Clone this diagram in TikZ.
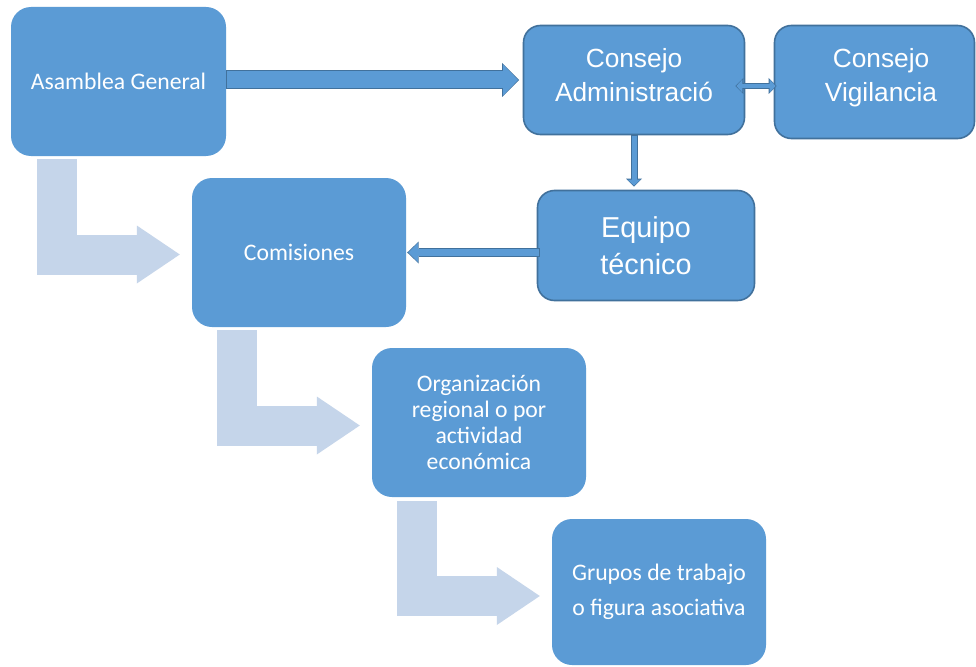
\documentclass[tikz,border=0pt]{standalone}
\usepackage{fontspec}
\usepackage{tikz}
\usetikzlibrary{arrows.meta,calc,positioning}
\newfontfamily\calibrifont{Carlito}
\newfontfamily\arialfont{Liberation Sans}
\definecolor{boxfill}{RGB}{91,155,213}
\definecolor{boxline}{RGB}{65,113,156}
\definecolor{lightarrow}{RGB}{197,213,234}
\tikzstyle{orgbox}=[rectangle, rounded corners=20pt, fill=boxfill, text=white, align=center, inner sep=0pt, minimum width=214pt, minimum height=149pt, font=\calibrifont\fontsize{23.7}{26}\selectfont]
\tikzstyle{council}=[rectangle, rounded corners=17pt, fill=boxfill, draw=boxline, line width=1.6pt, text=white, align=center, inner sep=0pt, font=\arialfont\fontsize{26.3}{34}\selectfont]
\tikzstyle{councillabel}=[text=white, align=center, inner sep=0pt, font=\arialfont\fontsize{26.3}{34}\selectfont]
\tikzstyle{stepdown}=[draw=lightarrow, line width=40pt, line join=miter, -{Triangle[length=43pt, width=58pt, line width=0pt]}]
\tikzset{
  darr/.code args={#1/#2/#3/#4}{%
    \pgfmathsetlengthmacro\shaftin{#1-2pt}%
    \pgfmathsetlengthmacro\headwin{#2-3pt}%
    \pgfmathsetlengthmacro\headlin{#3-2pt}%
    \tikzset{draw=boxline, line width=#1, >={Triangle[length=#3, width=#2, line width=0pt]}, #4,
      postaction={draw=boxfill, line width=\shaftin, shorten >=1.1pt, shorten <=1.1pt,
        >={Triangle[length=\headlin, width=\headwin, line width=0pt]}, #4}}}
}

\begin{document}
\begin{tikzpicture}[x=1pt, y=-1pt]
		\fill[white] (0, 0) rectangle (976, 666);
		\useasboundingbox (0, 0) rectangle (976, 666);
		
		\node[orgbox, minimum width=215pt] at (118.5, 81.5) (ag) {Asamblea General};
		
		\node[council, minimum width=221pt, minimum height=109pt, label={[councillabel, yshift=5pt]center:Consejo\\Administració}] at (634, 80) (ca) {};
		
		\node[council, minimum width=200pt, minimum height=113pt, label={[councillabel, xshift=6.5pt, yshift=4pt]center:Consejo\\Vigilancia}] at (874.5, 82) (cv) {};
		
		\node[council, minimum width=217pt, minimum height=110pt, font=\arialfont\fontsize{28.8}{37}\selectfont] at (646, 245.5) (et) {Equipo\\técnico};
		
		\node[orgbox] at (299, 252.5) (co) {Comisiones};
		
		\node[orgbox] at (479, 422.5) (or) {Organización\\regional o por\\actividad\\económica};
		
		\node[orgbox, minimum height=146pt, font=\calibrifont\fontsize{23.7}{35}\selectfont] at (659, 592) (gr) {Grupos de trabajo\\o figura asociativa};
		
		\draw[darr={19pt/34pt/17pt/->}] (ag.east |- ca.west) -- ($(ca.west)+(-3.5, 0)$);
		\draw[darr={6pt/16pt/8pt/<->}] ($(ca.east)+(-10, 6)$) -- ($(cv.west)+(3, 4)$);
		\draw[darr={7pt/16pt/8pt/->}] (ca.south) -- ($(ca.south |- et.north)+(0, -3)$);
		\draw[darr={9pt/22pt/11.5pt/->}] ($(et.west |- co.east)+(3, 0)$) -- ($(co.east)+(1, 0)$);
		
		\draw[stepdown] ($(ag.south west)+(46, 3)$) |- ($(co.west)+(-12, 2)$);
		\draw[stepdown] ($(co.south west)+(45, 3)$) |- ($(or.west)+(-12, 3)$);
		\draw[stepdown] ($(or.south west)+(45, 4)$) |- ($(gr.west)+(-12, 4)$);
		
\end{tikzpicture}
\end{document}
